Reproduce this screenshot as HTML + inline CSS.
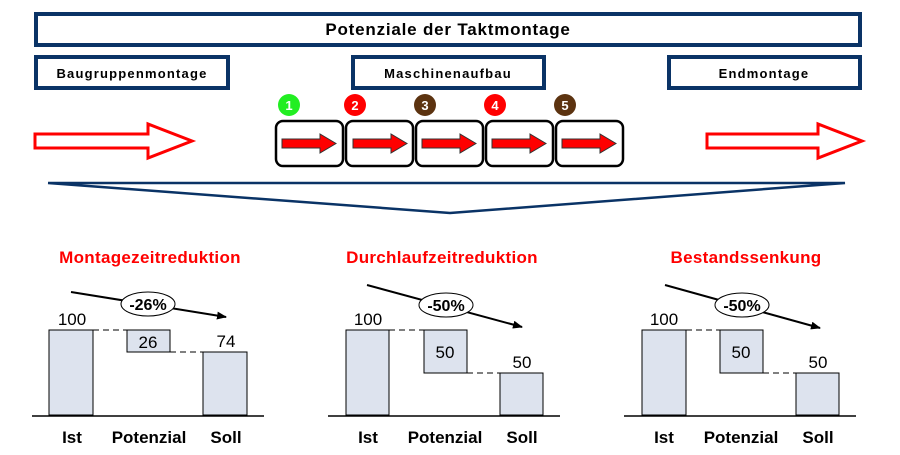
<!DOCTYPE html>
<html><head><meta charset="utf-8"><style>body{margin:0;background:#fff}svg{display:block}text{font-family:"Liberation Sans",Arial,sans-serif}</style></head><body>
<svg width="900" height="455" viewBox="0 0 900 455" xmlns="http://www.w3.org/2000/svg">
<defs><marker id="ah" markerWidth="10" markerHeight="8" refX="9" refY="4" orient="auto" markerUnits="userSpaceOnUse"><path d="M0,0 L10,4 L0,8 Z" fill="#000"/></marker></defs>
<g fill="#fff" stroke="#0a3366" stroke-width="4">
<rect x="36" y="14" width="824" height="31"/>
<rect x="36" y="57" width="192" height="31"/>
<rect x="353" y="57" width="191" height="31"/>
<rect x="669" y="57" width="191" height="31"/>
</g>
<g font-weight="bold" text-anchor="middle" fill="#000">
<text x="448" y="35" font-size="17" letter-spacing="0.8">Potenziale der Taktmontage</text>
<text x="132" y="78" font-size="13" letter-spacing="1.2">Baugruppenmontage</text>
<text x="448" y="78" font-size="13" letter-spacing="1.2">Maschinenaufbau</text>
<text x="764" y="78" font-size="13" letter-spacing="1.2">Endmontage</text>
</g>
<g fill="#fff" stroke="#ff0000" stroke-width="3">
<path d="M35,134 L148,134 L148,124 L192,141 L148,158 L148,148 L35,148 Z"/>
<path d="M707,134 L818,134 L818,124 L862,141 L818,158 L818,148 L707,148 Z"/>
</g>
<g stroke="#000" stroke-width="2.5" fill="#fff">
<rect x="276" y="121" width="67" height="45" rx="7"/>
<rect x="346" y="121" width="67" height="45" rx="7"/>
<rect x="416" y="121" width="67" height="45" rx="7"/>
<rect x="486" y="121" width="67" height="45" rx="7"/>
<rect x="556" y="121" width="67" height="45" rx="7"/>
</g>
<g fill="#ff0000" stroke="#333" stroke-width="1">
<path d="M282,139 L320,139 L320,134 L336,143.5 L320,153 L320,148 L282,148 Z"/>
<path d="M353,139 L391,139 L391,134 L407,143.5 L391,153 L391,148 L353,148 Z"/>
<path d="M422,139 L460,139 L460,134 L476,143.5 L460,153 L460,148 L422,148 Z"/>
<path d="M492,139 L530,139 L530,134 L546,143.5 L530,153 L530,148 L492,148 Z"/>
<path d="M562,139 L600,139 L600,134 L616,143.5 L600,153 L600,148 L562,148 Z"/>
</g>
<circle cx="289" cy="105" r="11" fill="#22ee22"/>
<circle cx="355" cy="105" r="11" fill="#ff0000"/>
<circle cx="425" cy="105" r="11" fill="#5c3310"/>
<circle cx="495" cy="105" r="11" fill="#ff0000"/>
<circle cx="565" cy="105" r="11" fill="#5c3310"/>
<g fill="#fff" font-weight="bold" font-size="13" text-anchor="middle">
<text x="289" y="110">1</text><text x="355" y="110">2</text><text x="425" y="110">3</text><text x="495" y="110">4</text><text x="565" y="110">5</text>
</g>
<polyline points="48,183 845,183 450,213 48,183" fill="none" stroke="#0a3366" stroke-width="2.5"/>
<g font-weight="bold" font-size="17" fill="#ff0000" text-anchor="middle" letter-spacing="0.3">
<text x="150" y="263">Montagezeitreduktion</text>
<text x="442" y="263">Durchlaufzeitreduktion</text>
<text x="746" y="263">Bestandssenkung</text>
</g>
<g stroke="#000" stroke-width="1" fill="#dde3ee">
<rect x="49" y="330" width="44" height="85"/><rect x="127" y="330" width="43" height="22"/><rect x="203" y="352" width="44" height="63"/>
<rect x="346" y="330" width="43" height="85"/><rect x="424" y="330" width="43" height="43"/><rect x="500" y="373" width="43" height="42"/>
<rect x="642" y="330" width="44" height="85"/><rect x="720" y="330" width="43" height="43"/><rect x="796" y="373" width="43" height="42"/>
</g>
<g stroke="#000" stroke-width="1" stroke-dasharray="6,4">
<line x1="93" y1="330" x2="127" y2="330"/><line x1="170" y1="352" x2="203" y2="352"/>
<line x1="389" y1="330" x2="424" y2="330"/><line x1="467" y1="373" x2="500" y2="373"/>
<line x1="686" y1="330" x2="720" y2="330"/><line x1="763" y1="373" x2="796" y2="373"/>
</g>
<g stroke="#000" stroke-width="1.5">
<line x1="32" y1="416" x2="264" y2="416"/><line x1="328" y1="416" x2="560" y2="416"/><line x1="624" y1="416" x2="856" y2="416"/>
</g>
<g stroke="#000" stroke-width="2" marker-end="url(#ah)">
<line x1="71" y1="292" x2="226" y2="317"/>
<line x1="367" y1="285" x2="522" y2="327"/>
<line x1="665" y1="285" x2="820" y2="328"/>
</g>
<g fill="#fff" stroke="#000" stroke-width="1">
<ellipse cx="148" cy="304" rx="27" ry="12"/><ellipse cx="446" cy="305" rx="27" ry="12"/><ellipse cx="742" cy="305" rx="27" ry="12"/>
</g>
<g font-weight="bold" font-size="16" text-anchor="middle" fill="#000">
<text x="148" y="310">-26%</text><text x="446" y="311">-50%</text><text x="742" y="311">-50%</text>
</g>
<g font-size="17" text-anchor="middle" fill="#000">
<text x="72" y="325">100</text><text x="148" y="348">26</text><text x="226" y="347">74</text>
<text x="368" y="325">100</text><text x="445" y="358">50</text><text x="522" y="368">50</text>
<text x="664" y="325">100</text><text x="741" y="358">50</text><text x="818" y="368">50</text>
</g>
<g font-weight="bold" font-size="17" text-anchor="middle" fill="#000">
<text x="72" y="443">Ist</text><text x="149" y="443">Potenzial</text><text x="226" y="443">Soll</text>
<text x="368" y="443">Ist</text><text x="445" y="443">Potenzial</text><text x="522" y="443">Soll</text>
<text x="664" y="443">Ist</text><text x="741" y="443">Potenzial</text><text x="818" y="443">Soll</text>
</g>
</svg>
</body></html>
